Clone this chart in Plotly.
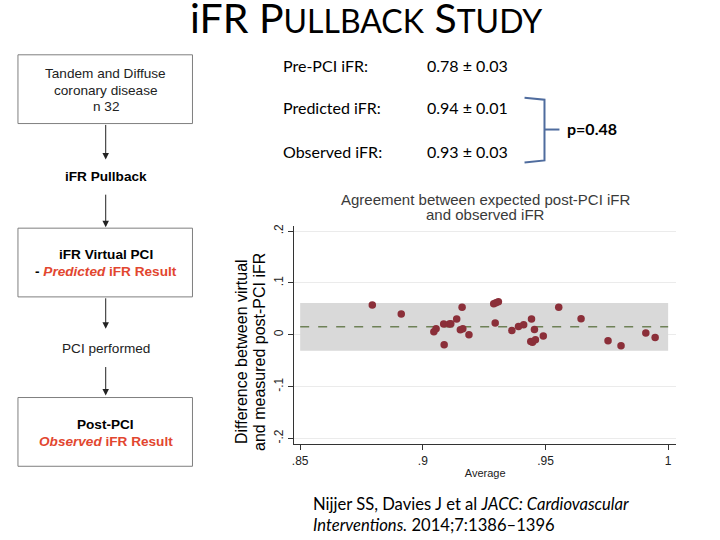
import plotly.graph_objects as go

W, H = 720, 540

# ---- data ----
avg_ifr = [0.8794, 0.8912, 0.9045, 0.9054, 0.9085, 0.9087, 0.9108, 0.9114,
           0.9138, 0.9160, 0.9153, 0.9163, 0.9188, 0.9289, 0.9298, 0.9308,
           0.9295, 0.9363, 0.9390, 0.9411, 0.9443, 0.9440, 0.9447, 0.9455,
           0.9459, 0.9491, 0.9554, 0.9645, 0.9755, 0.9808, 0.9909, 0.9947]
diff_ifr = [0.0574, 0.0400, 0.0058, 0.0116, 0.0206, -0.0194, 0.0206, 0.0213,
            0.0303, 0.0529, 0.0097, 0.0116, 0.0000, 0.0600, 0.0619, 0.0639,
            0.0226, 0.0084, 0.0161, 0.0194, 0.0303, -0.0129, -0.0142, 0.0103,
            -0.0097, -0.0026, 0.0529, 0.0310, -0.0116, -0.0213, 0.0032, -0.0052]
mean_diff = 0.0155
loa_upper = 0.0613
loa_lower = -0.0310
band_x = [0.85, 1.0]

x_ticks = [0.85, 0.90, 0.95, 1.0]
x_ticktext = [".85", ".9", ".95", "1"]
y_ticks = [0.2, 0.1, 0.0, -0.1, -0.2]
y_ticktext = [".2", ".1", "0", "-.1", "-.2"]

stats_labels = ["Pre-PCI iFR:", "Predicted iFR:", "Observed iFR:"]
stats_values = ["0.78 ± 0.03", "0.94 ± 0.01", "0.93 ± 0.03"]
p_value_text = "p=0.48"


def px(x):
    return x / W


def py(y):
    return 1 - y / H


fig = go.Figure()

fig.add_trace(go.Scatter(
    x=avg_ifr, y=diff_ifr, mode="markers",
    marker=dict(color="#8B2F39", size=7.5, line=dict(width=0)),
    showlegend=False, hoverinfo="x+y"))

# limits-of-agreement band and mean line
fig.add_shape(type="rect", xref="x", yref="y",
              x0=band_x[0], x1=band_x[1], y0=loa_lower, y1=loa_upper,
              fillcolor="#D9D9D9", line=dict(width=0), layer="between")
fig.add_shape(type="line", xref="x", yref="y",
              x0=band_x[0], x1=band_x[1], y0=mean_diff, y1=mean_diff,
              line=dict(color="#6E8157", width=1.6, dash="dash"), layer="between")

fig.update_layout(
    width=W, height=H, margin=dict(l=0, r=0, t=0, b=0),
    paper_bgcolor="white", plot_bgcolor="white",
    font=dict(family="Liberation Sans, Arial", color="#000"),
    xaxis=dict(domain=[px(293), px(676)], range=[0.84756, 1.00325],
               tickvals=x_ticks, ticktext=x_ticktext, ticks="outside",
               ticklen=5, tickcolor="#333", showgrid=False, zeroline=False,
               showline=True, linecolor="#333", linewidth=1,
               tickfont=dict(size=12, color="#222"),
               title=dict(text="Average", font=dict(size=11, color="#222"), standoff=2)),
    yaxis=dict(domain=[py(444), py(225)], range=[-0.2115, 0.2096],
               tickvals=y_ticks, ticktext=y_ticktext, ticks="outside",
               ticklen=5, tickcolor="#333", tickangle=-90,
               showgrid=True, gridcolor="#EBEBEB", gridwidth=1, zeroline=False,
               showline=True, linecolor="#333", linewidth=1,
               tickfont=dict(size=12, color="#222")),
)

ann = []


def text(x, y, s, size, family="Liberation Sans, Arial", color="#000",
         xanchor="center", angle=0):
    ann.append(dict(x=px(x), y=py(y), xref="paper", yref="paper", text=s,
                    showarrow=False, xanchor=xanchor, yanchor="middle",
                    textangle=angle,
                    font=dict(size=size, family=family, color=color)))


# slide title with small caps
big, small = 41, 32
title = ("iFR P<span style='font-size:%dpx'>ULLBACK</span> S"
         "<span style='font-size:%dpx'>TUDY</span>") % (small, small)
text(365, 16, title, big, family="Lato")

# plot title
text(485, 198, "Agreement between expected post-PCI iFR", 15, color="#3a3a3a")
text(485, 213, "and observed iFR", 15, color="#3a3a3a")

# y-axis title (rotated, two lines)
text(240, 351, "Difference between virtual", 16, angle=-90)
text(258, 351, "and measured post-PCI iFR", 16, angle=-90)

# stats
stat_y = [64, 106, 150]
for lab, val, yy in zip(stats_labels, stats_values, stat_y):
    text(280, yy, lab, 16, family="Lato", xanchor="left")
    text(424, yy, val, 16, family="Lato", xanchor="left")
text(565, 127, "<b>" + p_value_text + "</b>", 16, family="Lato", xanchor="left")

# bracket
bx = 544
path = ("M %f,%f L %f,%f L %f,%f L %f,%f" % (px(524), py(96), px(bx), py(98),
                                             px(bx), py(159), px(524), py(161)))
fig.add_shape(type="path", xref="paper", yref="paper", path=path,
              line=dict(color="#4F6C9E", width=2))
fig.add_shape(type="line", xref="paper", yref="paper",
              x0=px(bx), x1=px(559), y0=py(128), y1=py(128),
              line=dict(color="#4F6C9E", width=2))

# citation
text(310, 504, "Nijjer SS, Davies J et al <i>JACC: Cardiovascular</i>", 16.6,
     family="Lato", xanchor="left")
text(310, 525, "<i>Interventions.</i> 2014;7:1386–1396", 16.6,
     family="Lato", xanchor="left")

# flowchart
red = "#E2462F"
boxes = [(16, 53, 191, 122), (16, 227, 191, 296), (16, 397, 191, 466)]
for x0, y0, x1, y1 in boxes:
    fig.add_shape(type="rect", xref="paper", yref="paper",
                  x0=px(x0), x1=px(x1), y0=py(y1), y1=py(y0),
                  line=dict(color="#7F7F7F", width=1), fillcolor="white")

cx = 104
fs = 13.6
text(cx, 72, "Tandem and Diffuse", fs, color="#222")
text(cx, 89, "coronary disease", fs, color="#222")
text(cx, 105, "n 32", fs, color="#222")
text(cx, 175, "<b>iFR Pullback</b>", fs)
text(cx, 253, "<b>iFR Virtual PCI</b>", fs)
text(cx, 270, "<b>- <span style='color:%s'><i>Predicted</i> iFR Result</span></b>" % red, fs)
text(cx, 348, "PCI performed", fs, color="#222")
text(cx, 424, "<b>Post-PCI</b>", fs)
text(cx, 441, "<b><span style='color:%s'><i>Observed</i> iFR Result</span></b>" % red, fs)

arrows = [(122, 158), (192, 226), (296, 328), (365, 395)]
for ys, ye in arrows:
    ann.append(dict(x=px(cx), y=py(ye), xref="paper", yref="paper",
                    ax=0, ay=-(ye - ys), axref="pixel", ayref="pixel",
                    text="", showarrow=True, arrowhead=2, arrowsize=1.3,
                    arrowwidth=1, arrowcolor="#222"))

fig.update_layout(annotations=ann)
fig.write_html("out.html", config={"displayModeBar": False},
               post_script="document.body.style.margin='0';document.body.style.padding='0';")
